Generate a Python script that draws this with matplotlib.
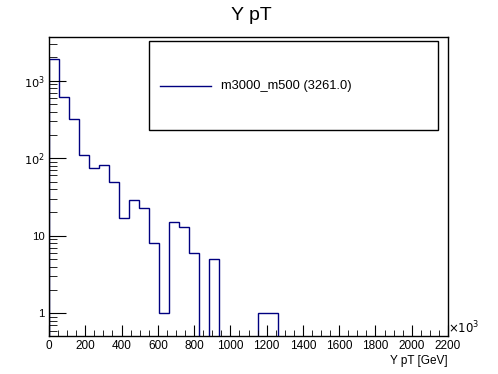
import matplotlib
matplotlib.use("Agg")
import matplotlib.pyplot as plt
import numpy as np
from matplotlib.ticker import FixedLocator, MultipleLocator, NullFormatter, LogLocator
from matplotlib.patches import Rectangle

plt.rcParams['font.family'] = ['Liberation Sans', 'DejaVu Sans']

bin_width = 55
n_bins = 40
counts = [1896, 612, 319, 109, 75, 81, 50, 17, 29, 23,
          8, 1, 15, 13, 6, 0, 5, 0, 0, 0,
          0, 1, 1, 0, 0, 0, 0, 0, 0, 0,
          0, 0, 0, 0, 0, 0, 0, 0, 0, 0]
edges = np.arange(n_bins + 1) * bin_width
label = "m3000_m500 (3261.0)"
xticks = [0, 200, 400, 600, 800, 1000, 1200, 1400, 1600, 1800, 2000, 2200]
yticks = [1, 10, 100, 1000]
ytick_labels = ["1", "10", "$10^{2}$", "$10^{3}$"]

fig = plt.figure(figsize=(4.98, 3.74), dpi=100)
ax = fig.add_axes([0.0984, 0.1016, 0.8012, 0.8003])
color = '#000080'
c = np.array(counts, dtype=float)
ymin = 0.51
cplot = np.where(c > 0, c, ymin * 0.5)
ax.stairs(cplot, edges, color=color, linewidth=1.0, baseline=ymin * 0.5)
ax.set_yscale('log')
ax.set_xlim(0, 2200)
ax.set_ylim(ymin, 3700)

ax.xaxis.set_major_locator(FixedLocator(xticks))
ax.xaxis.set_minor_locator(MultipleLocator(50))
ax.set_xticklabels([str(t) for t in xticks])
ax.yaxis.set_major_locator(FixedLocator(yticks))
ax.set_yticklabels(ytick_labels)
ax.yaxis.set_minor_locator(LogLocator(base=10, subs=np.arange(2, 10)))
ax.yaxis.set_minor_formatter(NullFormatter())

ax.tick_params(axis='both', which='both', direction='in', top=False, right=False, labelsize=8.5)
ax.tick_params(axis='x', which='major', length=8, pad=3)
ax.tick_params(axis='x', which='minor', length=4)
ax.tick_params(axis='y', which='major', length=12, pad=3, labelsize=8.2)
ax.tick_params(axis='y', which='minor', length=6)
for s in ax.spines.values():
    s.set_linewidth(1.0)

ax.set_xlabel("Y pT [GeV]", fontsize=8.5, loc='right', labelpad=2)
ax.text(1.0, 0.0, r"$\times10^{3}$", transform=ax.transAxes, fontsize=8.5,
        ha='left', va='bottom')

fig.text(251 / 498, 1 - 19.5 / 374, "Y pT", ha='center', va='baseline', fontsize=14)

# legend box
lx0, lx1 = 149 / 498, 438 / 498
ly0, ly1 = 1 - 130 / 374, 1 - 41 / 374
fig.patches.append(Rectangle((lx0, ly0), lx1 - lx0, ly1 - ly0, transform=fig.transFigure,
                             fill=False, edgecolor='black', linewidth=1.0))
ly = 1 - 86 / 374
fig.lines.append(plt.Line2D([160 / 498, 211 / 498], [ly, ly], transform=fig.transFigure,
                            color=color, linewidth=1.0))
fig.text(221 / 498, ly, label, ha='left', va='center', fontsize=9.3)

fig.savefig("out.png", dpi=100)
